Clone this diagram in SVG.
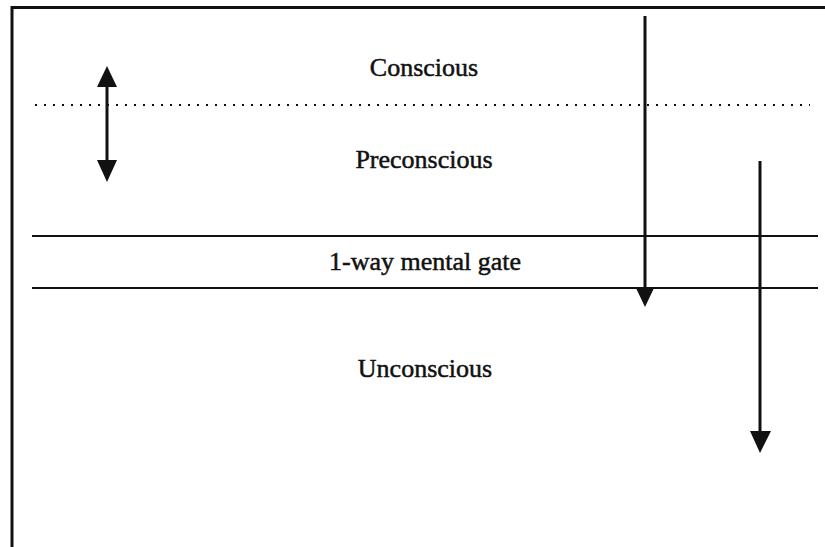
<svg xmlns="http://www.w3.org/2000/svg" width="825" height="547" viewBox="0 0 825 547">
<style>
.lbl{font-family:"Liberation Serif","Times New Roman",serif;font-size:26px;fill:#111;stroke:#111;stroke-width:0.5;text-anchor:middle}
.ln{stroke:#111;fill:none}
.head{fill:#111}
</style>
<rect width="825" height="547" fill="#fff"/>
<g id="frame">
<line class="ln" x1="12" y1="7.5" x2="825" y2="7.5" stroke-width="3"/>
<line class="ln" x1="12" y1="6" x2="12" y2="547" stroke-width="3"/>
</g>
<g id="boundaries">
<line class="ln" x1="35" y1="105" x2="810" y2="105" stroke-width="2" stroke-dasharray="2 7"/>
<line class="ln" x1="32" y1="236" x2="818" y2="236" stroke-width="2"/>
<line class="ln" x1="32" y1="288" x2="818" y2="288" stroke-width="2"/>
</g>
<g id="conscious"><text class="lbl" x="424" y="76">Conscious</text></g>
<g id="preconscious"><text class="lbl" x="424" y="168">Preconscious</text></g>
<g id="gate"><text class="lbl" x="425" y="270">1-way mental gate</text></g>
<g id="unconscious"><text class="lbl" x="425" y="377">Unconscious</text></g>
<g id="connectors">
<line class="ln" x1="107" y1="84" x2="107" y2="163" stroke-width="3"/>
<polygon class="head" points="107,66 97,87 117,87"/>
<polygon class="head" points="107,182 97,160 117,160"/>
<line class="ln" x1="645" y1="16" x2="645" y2="290" stroke-width="3"/>
<polygon class="head" points="645,307 635.5,287 654.5,287"/>
<line class="ln" x1="760" y1="161" x2="760" y2="433" stroke-width="3"/>
<polygon class="head" points="760,453 750,431 771,431"/>
</g>
</svg>
